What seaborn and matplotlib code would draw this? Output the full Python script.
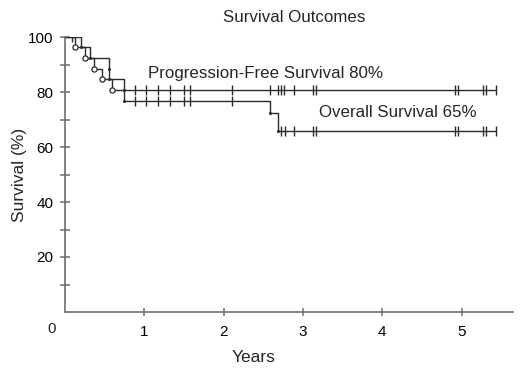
import numpy as np
import pandas as pd
import matplotlib
matplotlib.use("Agg")
import matplotlib.pyplot as plt
import seaborn as sns
from matplotlib.ticker import FixedLocator

# ---- data ----
pfs_event_years = [0.12, 0.25, 0.37, 0.47, 0.59]
pfs_event_surv = [96.2, 92.3, 88.5, 84.6, 80.8]
os_event_years = [0.20, 0.32, 0.55, 0.55, 0.74, 0.74, 2.58, 2.69]
os_event_surv = [96.2, 92.3, 88.5, 84.6, 80.8, 76.9, 72.4, 65.8]
pfs_censor_years = [0.09, 0.88, 1.02, 1.17, 1.32, 1.50, 1.58, 2.11, 2.58, 2.69,
                    2.72, 2.76, 2.89, 3.13, 3.17, 4.92, 4.95, 5.27, 5.31, 5.43]
os_censor_years = [0.88, 1.02, 1.17, 1.32, 1.50, 1.58, 2.11, 2.73, 2.77, 2.89,
                   3.13, 3.17, 4.92, 4.95, 5.27, 5.31, 5.43]
last_follow_up = 5.43
x_ticks = [1, 2, 3, 4, 5]
y_major = [20, 40, 60, 80, 100]
y_minor = [10, 30, 50, 70, 90]
title = "Survival Outcomes"
pfs_label = "Progression-Free Survival 80%"
os_label = "Overall Survival 65%"

sns.set_style("white")
plt.rcParams['font.family'] = ['Liberation Sans', 'DejaVu Sans']

def curve(ev_t, ev_s):
    x = [0.0] + list(ev_t) + [last_follow_up]
    y = [100.0] + list(ev_s) + [ev_s[-1]]
    return pd.DataFrame({"t": x, "s": y})

def surv_at(ev_t, ev_s, times):
    ev_t = np.asarray(ev_t); ev_s = np.asarray(ev_s)
    out = []
    for t in times:
        idx = np.where(ev_t <= t)[0]
        out.append(ev_s[idx[-1]] if len(idx) else 100.0)
    return pd.DataFrame({"t": times, "s": out})

fig = plt.figure(figsize=(5.2, 3.7), dpi=100)
ax = fig.add_axes([65/520, 1-312/370, 448/520, 275/370])

line_c = "#2a2a2a"
for ev_t, ev_s in [(pfs_event_years, pfs_event_surv), (os_event_years, os_event_surv)]:
    sns.lineplot(data=curve(ev_t, ev_s), x="t", y="s", estimator=None, sort=False,
                 drawstyle="steps-post", color=line_c, lw=1.0, ax=ax)

# censor marks
for ev_t, ev_s, cens in [(pfs_event_years, pfs_event_surv, pfs_censor_years),
                         (os_event_years, os_event_surv, os_censor_years)]:
    sns.scatterplot(data=surv_at(ev_t, ev_s, cens), x="t", y="s", marker="|",
                    s=45, linewidth=1.0, color=line_c, ax=ax, zorder=3)

# event markers
sns.scatterplot(data=pd.DataFrame({"t": pfs_event_years, "s": pfs_event_surv}), x="t", y="s",
                marker="o", s=14, facecolor="white", edgecolor=line_c, linewidth=0.9, ax=ax, zorder=4)
sns.scatterplot(data=pd.DataFrame({"t": os_event_years, "s": os_event_surv}), x="t", y="s",
                marker="o", s=5, color=line_c, linewidth=0, ax=ax, zorder=4)

ax.set_xlim(0, 448/79.3)
ax.set_ylim(0, 100)
ax.xaxis.set_major_locator(FixedLocator(x_ticks))
ax.yaxis.set_major_locator(FixedLocator(y_major))
ax.yaxis.set_minor_locator(FixedLocator(y_minor))
ax.set_xticklabels([str(v) for v in x_ticks])
ax.set_yticklabels([str(v) for v in y_major])

spine_c = "#6e6e6e"
for s in ["top", "right"]:
    ax.spines[s].set_visible(False)
for s in ["left", "bottom"]:
    ax.spines[s].set_color(spine_c)
    ax.spines[s].set_linewidth(1.2)
ax.tick_params(axis="both", which="both", direction="inout", color=spine_c, width=1.1,
               labelsize=11, labelcolor="black")
ax.tick_params(axis="y", which="both", length=7, pad=5)
ax.tick_params(axis="x", which="major", length=6, pad=6, bottom=True)
ax.tick_params(axis="y", which="both", left=True)

ax.set_xlabel("Years", fontsize=12.5)
ax.set_ylabel("Survival (%)", fontsize=12.5)
ax.xaxis.set_label_coords((254-65)/448, (312-350)/275)
ax.yaxis.set_label_coords((27-65)/448, 0.5)

fig.text(52/520, 1-329/370, "0", fontsize=11, ha="center", va="center")
fig.text(294/520, 1-17/370, title, fontsize=12.2, ha="center", va="center")
ax.text(1.05, 86.9, pfs_label, fontsize=12.2, ha="left", va="center")
ax.text(3.2, 72.4, os_label, fontsize=12.2, ha="left", va="center")

fig.savefig("out.png", dpi=100)
